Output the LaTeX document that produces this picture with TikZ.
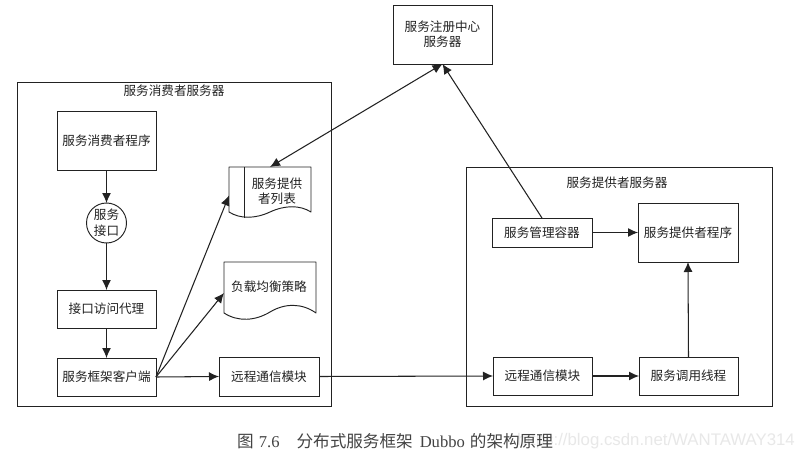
\documentclass[tikz,border=0pt]{standalone}
\usepackage{fontspec}
\setmainfont{Liberation Serif}
\newfontfamily\cjk{Noto Sans CJK SC}
\newfontfamily\wm{Liberation Sans}
\usetikzlibrary{arrows.meta}
\definecolor{ink}{HTML}{222222}
\definecolor{soft}{HTML}{E8E8E8}
\tikzset{
  box/.style={draw=ink,line width=0.95pt,fill=white,inner sep=0pt,outer sep=0pt,text=ink,align=center,font=\cjk\fontsize{12.6}{15}\selectfont},
  frame/.style={draw=ink,line width=0.95pt,inner sep=0pt,outer sep=0pt},
  ghost/.style={inner sep=0pt,outer sep=0pt},
  label/.style={inner sep=0pt,outer sep=0pt,text=ink,align=center,font=\cjk\fontsize{12.6}{15}\selectfont},
  conn/.style={draw=ink,line width=1.05pt,-{Latex[length=10pt,width=9pt]}},
  dbl/.style={draw=ink,line width=1.05pt,{Latex[length=10pt,width=9pt]}-{Latex[length=10pt,width=9pt]}},
  plain/.style={draw=ink,line width=0.95pt}
}
% name, x1, y1, x2, y2, style, text
\newcommand{\rbox}[7]{%
  \pgfmathsetmacro{\rw}{#4-#2}\pgfmathsetmacro{\rh}{#5-#3}%
  \node[#6,minimum width=\rw pt,minimum height=\rh pt] (#1) at ({(#2+#4)/2},{(#3+#5)/2}) {#7};}
\begin{document}
\begin{tikzpicture}[x=1pt,y=-1pt]
\useasboundingbox (0,0) rectangle (804,460);
\fill[white] (0,0) rectangle (804,460);
% outer frames
\rbox{consumer}{17}{82}{331}{406}{frame}{}
\rbox{providerserver}{466}{167}{772}{406}{frame}{}
\node[label] (consumertitle) at (174,91) {服务消费者服务器};
\node[label] (providertitle) at (617,183) {服务提供者服务器};
% boxes
\rbox{registry}{393}{5}{492}{64}{box}{服务注册中心\\服务器}
\rbox{prog}{57}{111}{156}{170}{box}{服务消费者程序}
\node[box,circle,minimum size=40pt,font=\cjk\fontsize{12.6}{16}\selectfont] (iface) at (106.5,223) {服务\\接口};
\rbox{proxy}{57}{290}{156}{328}{box}{接口访问代理}
\rbox{client}{57}{358}{156}{396}{box}{服务框架客户端}
\rbox{remoteA}{219}{357}{319}{396}{box}{远程通信模块}
\rbox{manager}{492}{218}{592}{247}{box}{服务管理容器}
\rbox{provider}{638}{203}{738}{262}{box}{服务提供者程序}
\rbox{remoteB}{493}{357}{592}{395}{box}{远程通信模块}
\rbox{thread}{639}{357}{738}{395}{box}{服务调用线程}
% documents
\rbox{list}{229}{167}{311}{224}{ghost}{}
\draw[plain,line join=round] (229,167) -- (311,167) -- (311,212)
  .. controls (300,205) and (285,205) .. (270,212)
  .. controls (255,219) and (240,219) .. (229,212) -- cycle;
\draw[plain] (244,167) -- (244,217.5);
\node[label] (listtext) at (277,191.5) {服务提供\\者列表};
\rbox{balance}{224}{262}{316}{324}{ghost}{}
\draw[plain,line join=round] (224,262) -- (316,262) -- (316,313)
  .. controls (302,303) and (285,303) .. (270,312)
  .. controls (255,321) and (238,322) .. (224,313) -- cycle;
\node[label] (balancetext) at (269,287) {负载均衡策略};
% connectors
\draw[conn] (prog.south) -- (iface.north);
\draw[conn] (iface.south) -- (proxy.north);
\draw[conn] (proxy.south) -- (client.north);
\draw[conn] (client.east) -- (list.west);
\draw[conn] (client.east) -- (balance.west);
\draw[conn] (client.east) -- (remoteA.west);
\draw[conn] (remoteA.east) -- (remoteB.west);
\draw[conn] (remoteB.east) -- (thread.west);
\draw[conn] (thread.north) -- (provider.south);
\draw[conn] (manager.east) -- (manager.east -| provider.west);
\draw[conn] (manager.north) -- (registry.south);
\draw[dbl] (registry.south) -- (list.north);
% watermark and caption
\node[inner sep=0pt,anchor=east,text=soft,font=\wm\fontsize{16.8}{20}\selectfont] (mark) at (795,441) {https://blog.csdn.net/WANTAWAY314};
\node[inner sep=0pt,anchor=west,text=ink!85!white,font=\fontsize{16.6}{20}\selectfont] (caption) at (237,441)
 {{\cjk 图}\hspace{5pt}7.6\hspace{17pt}{\cjk 分布式服务框架}\hspace{7pt}Dubbo\hspace{5pt}{\cjk 的架构原理}};
\end{tikzpicture}
\end{document}
